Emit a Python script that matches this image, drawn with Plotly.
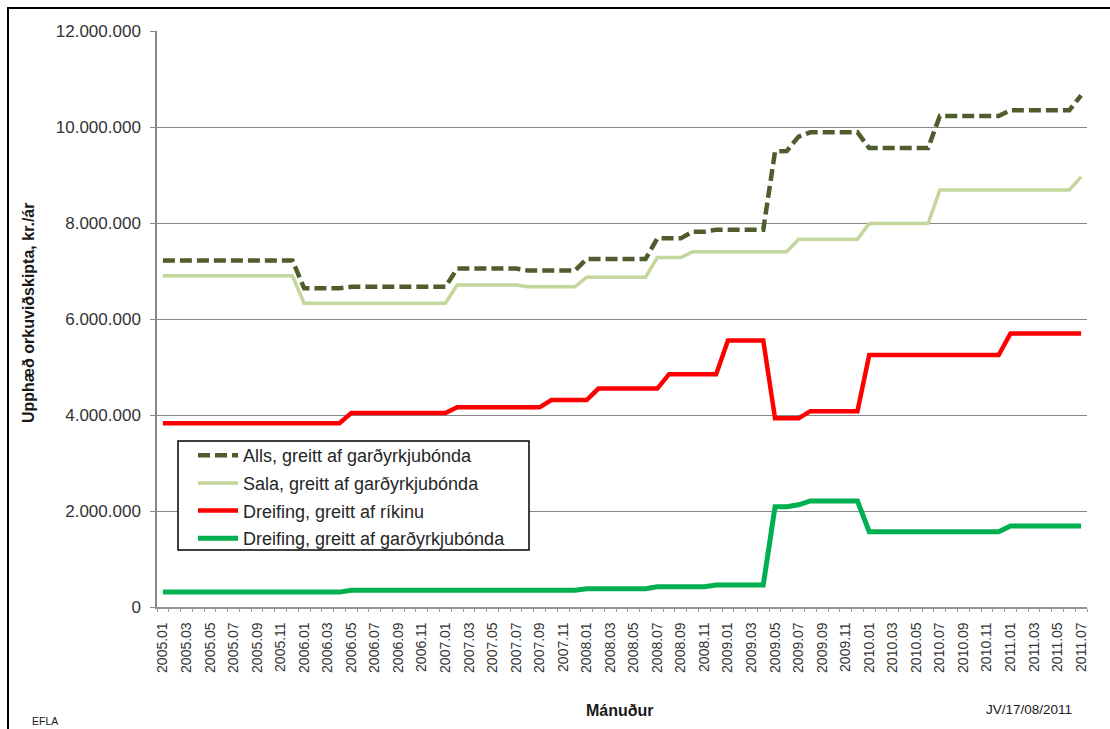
import plotly.graph_objects as go

# Months 2005.01 .. 2011.07
months = [f"{y}.{m:02d}" for y in range(2005, 2012) for m in range(1, 13)][:79]

alls = [7.22]*12 + [6.64]*4 + [6.67]*9 + [7.05]*6 + [7.01]*5 + [7.25]*6 + [7.68]*3 + [7.82]*2 + [7.86]*5 \
    + [9.49, 9.50, 9.80] + [9.89]*5 + [9.56]*6 + [10.23]*6 + [10.35]*6 + [10.66]
sala = [6.90]*12 + [6.33]*13 + [6.71]*6 + [6.67]*5 + [6.87]*6 + [7.28]*3 + [7.40]*9 + [7.66]*6 \
    + [7.99]*6 + [8.69]*12 + [8.96]
rikid = [3.83]*16 + [4.04]*9 + [4.16]*8 + [4.31]*4 + [4.55]*6 + [4.85]*5 + [5.55]*4 + [3.93]*3 \
    + [4.08]*5 + [5.25]*12 + [5.70]*7
gardyrkja = [0.31]*16 + [0.35]*20 + [0.38]*6 + [0.42]*5 + [0.46]*5 + [2.09, 2.09, 2.13] + [2.21]*5 \
    + [1.57]*12 + [1.69]*7

series_names = ["Alls, greitt af garðyrkjubónda", "Sala, greitt af garðyrkjubónda",
                "Dreifing, greitt af ríkinu", "Dreifing, greitt af garðyrkjubónda"]
y_ticks = [0, 2, 4, 6, 8, 10, 12]
y_ticktext = ["0", "2.000.000", "4.000.000", "6.000.000", "8.000.000", "10.000.000", "12.000.000"]

x = list(range(len(months)))
M = 1_000_000

styles = [
    dict(color="#4f5d2c", width=4.5, dash="12px,5px"),
    dict(color="#c3d69b", width=3.5),
    dict(color="#ff0000", width=4.5),
    dict(color="#00b050", width=5),
]

fig = go.Figure()
for i, (name, vals) in enumerate(zip(series_names, [alls, sala, rikid, gardyrkja])):
    fig.add_trace(go.Scatter(x=x, y=[v*M for v in vals], name=name, mode="lines",
                             legendgroup=f"g{i}", line=styles[i]))


def px_x(p):
    return (p - 157) / 930


def px_y(p):
    return (607 - p) / 576


fig.update_layout(
    width=1110, height=729,
    margin=dict(l=157, r=23, t=31, b=122),
    paper_bgcolor="white", plot_bgcolor="white",
    font=dict(family="Liberation Sans, Arial, sans-serif", color="#262626"),
    showlegend=True,
    legend=dict(x=px_x(193), y=px_y(437), xanchor="left", yanchor="top",
                bgcolor="rgba(255,255,255,0)", borderwidth=0,
                itemwidth=40, traceorder="grouped", tracegroupgap=1.3,
                font=dict(size=18, color="#262626")),
    xaxis=dict(range=[-0.5, len(months) - 0.5], tickmode="array",
               tickvals=x[::2], ticktext=months[::2], tickangle=-90,
               tickfont=dict(size=14, color="#333333"),
               ticks="outside", ticklen=0, ticklabelstandoff=8,
               showline=True, linecolor="#8a9a8a", linewidth=1.5,
               showgrid=False, zeroline=False,
               minor=dict(ticks="outside", tick0=-0.5, dtick=1, ticklen=3,
                          tickcolor="#999999", showgrid=False)),
    yaxis=dict(range=[0, 12*M], tickmode="array",
               tickvals=[v*M for v in y_ticks], ticktext=y_ticktext,
               tickfont=dict(size=17, color="#333333"),
               ticks="outside", ticklen=5, tickcolor="#888888", ticklabelstandoff=6,
               showline=True, linecolor="#888888", linewidth=1.5,
               showgrid=True, gridcolor="#888888", gridwidth=1, zeroline=False),
)

# legend frame (white box covering gridlines; legend itself is drawn on top)
fig.add_shape(type="rect", xref="paper", yref="paper",
              x0=px_x(178), x1=px_x(529), y0=px_y(550), y1=px_y(441),
              line=dict(color="black", width=1.5), fillcolor="white", layer="above")

fig.add_annotation(text="<b>Upphæð orkuviðskipta, kr./ár</b>", textangle=-90,
                   xref="paper", yref="paper", x=px_x(28), y=px_y(313),
                   xanchor="center", yanchor="middle",
                   showarrow=False, font=dict(size=16, color="#1a1a1a"))
fig.add_annotation(text="<b>Mánuður</b>", xref="paper", yref="paper",
                   x=px_x(620), y=px_y(710), xanchor="center", yanchor="middle",
                   showarrow=False, font=dict(size=16, color="#1a1a1a"))
fig.add_annotation(text="EFLA", xref="paper", yref="paper",
                   x=px_x(45), y=px_y(721), xanchor="center", yanchor="middle",
                   showarrow=False, font=dict(size=10.5, color="#1a1a1a"))
fig.add_annotation(text="JV/17/08/2011", xref="paper", yref="paper",
                   x=px_x(1029), y=px_y(709), xanchor="center", yanchor="middle",
                   showarrow=False, font=dict(size=13.5, color="#1a1a1a"))

# outer chart frame
fig.add_shape(type="rect", xref="paper", yref="paper",
              x0=px_x(8), x1=px_x(1120), y0=px_y(740), y1=px_y(8),
              line=dict(color="black", width=2), fillcolor="rgba(0,0,0,0)", layer="above")

fig.write_html("out.html", config={"displayModeBar": False},
               post_script="document.body.style.margin='0px';")
